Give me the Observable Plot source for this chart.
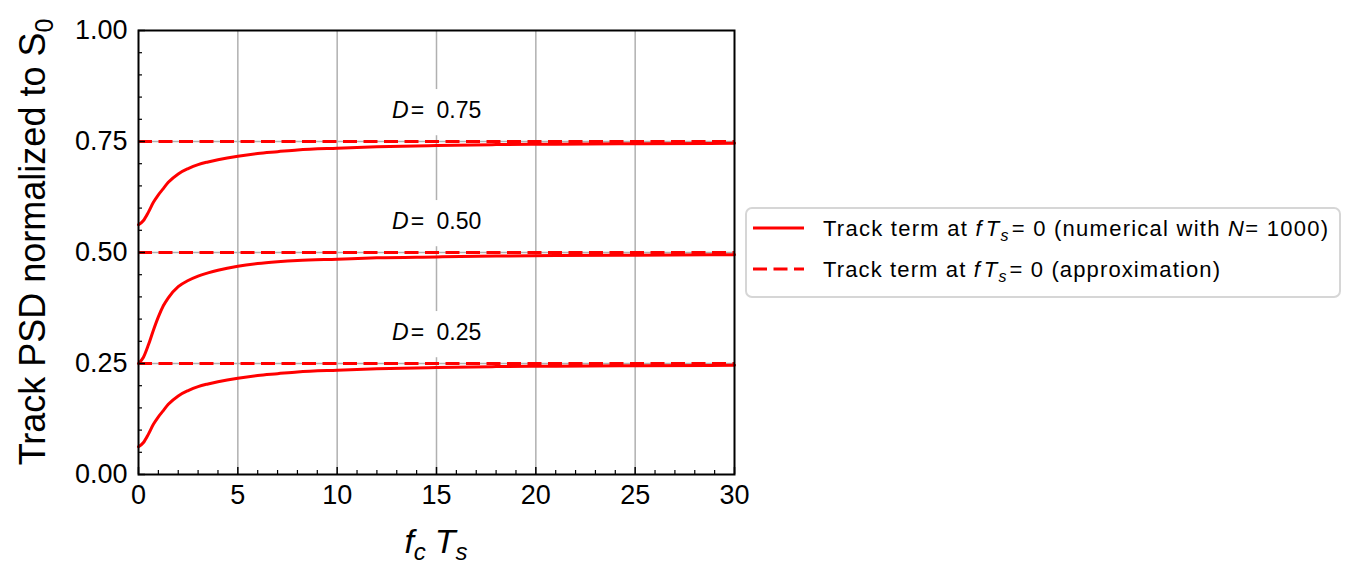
<!DOCTYPE html>
<html><head><meta charset="utf-8">
<script src="https://cdn.jsdelivr.net/npm/d3@7"></script>
<script src="https://cdn.jsdelivr.net/npm/@observablehq/plot@0.6"></script>
<style>body{margin:0;background:#fff;} svg{display:block}</style>
</head><body><div id="chart"></div>
<script>
// ---- data ----
const xValues = [0, 0.25, 0.5, 0.75, 1, 1.25, 1.5, 2, 2.5, 3, 3.5, 4, 5, 6, 7, 8, 10, 12, 15, 18, 21, 25, 30];
const dutyCycles = [0.25, 0.5, 0.75];
const psdD025 = [0.0625, 0.072, 0.091, 0.113, 0.130, 0.144, 0.158, 0.177, 0.189, 0.198, 0.204, 0.209, 0.217, 0.223, 0.227, 0.231, 0.235, 0.238, 0.241, 0.243, 0.244, 0.245, 0.246];
const psdD050 = [0.250, 0.264, 0.292, 0.325, 0.355, 0.380, 0.398, 0.423, 0.437, 0.447, 0.454, 0.460, 0.469, 0.475, 0.479, 0.482, 0.485, 0.488, 0.490, 0.492, 0.493, 0.494, 0.495];
const psdD075 = [0.5625, 0.572, 0.591, 0.613, 0.630, 0.644, 0.658, 0.677, 0.689, 0.698, 0.704, 0.709, 0.717, 0.723, 0.727, 0.731, 0.735, 0.738, 0.741, 0.743, 0.744, 0.745, 0.746];
const xTicks = [0, 5, 10, 15, 20, 25, 30];
const yTicks = [0, 0.25, 0.5, 0.75, 1];
const legendLabels = ["Track term at ", " 0 (numerical with ", "= 1000)", " 0 (approximation)"];

// ---- derived tables ----
const series = [psdD025, psdD050, psdD075];
const rows = dutyCycles.flatMap((D, k) => xValues.map((x, i) => ({x, y: series[k][i], D})));
const xMinor = d3.range(1, 30).filter(v => v % 5 !== 0);
const yMinor = d3.range(1, 20).filter(i => i % 5 !== 0).map(i => i / 20);

const W = 1358, H = 583, mL = 138, mR = 624, mT = 30, mB = 109;
const plotW = W - mL - mR, plotH = H - mT - mB;
const grey = "#b0b0b0";
const fmt = d3.format(".2f");
const labelY = d => d + 0.069;

const plot = Plot.plot({
  width: W, height: H,
  marginLeft: mL, marginRight: mR, marginTop: mT, marginBottom: mB,
  style: {fontFamily: "'Liberation Sans', Arial, sans-serif", fontSize: "27px", color: "black", background: "white"},
  x: {domain: [0, 30]},
  y: {domain: [0, 1]},
  marks: [
    Plot.ruleX(xTicks.slice(1, -1), {stroke: grey, strokeWidth: 1.5}),
    Plot.ruleY(yTicks.slice(1, -1), {stroke: grey, strokeWidth: 1.5}),
    Plot.rect(dutyCycles, {x1: () => 12.4, x2: () => 17.6, y1: d => d + 0.013, y2: d => d + 0.117, fill: "white"}),
    Plot.line(rows, {x: "x", y: "y", z: "D", stroke: "red", strokeWidth: 3, curve: "monotone-x"}),
    Plot.ruleY(dutyCycles, {stroke: "red", strokeWidth: 3, strokeDasharray: "14,6.5"}),
    Plot.text(dutyCycles, {x: () => 15, y: labelY, text: d => fmt(d), textAnchor: "start", fontSize: 23, fill: "black"}),
    Plot.text(dutyCycles, {x: () => 15, y: labelY, text: () => "=", dx: -19, fontSize: 23, fill: "black"}),
    Plot.text(dutyCycles, {x: () => 15, y: labelY, text: () => "D", fontStyle: "italic", textAnchor: "end", dx: -28, fontSize: 23, fill: "black"}),
    Plot.ruleX(xMinor, {insetTop: plotH - 4, stroke: "black", strokeWidth: 1.2}),
    Plot.ruleX(xTicks, {insetTop: plotH - 7, stroke: "black", strokeWidth: 1.5}),
    Plot.ruleY(yMinor, {insetRight: plotW - 4, stroke: "black", strokeWidth: 1.2}),
    Plot.ruleY(yTicks, {insetRight: plotW - 7, stroke: "black", strokeWidth: 1.5}),
    Plot.axisX(xTicks, {tickSize: 0, tickPadding: 10, fontSize: 27, label: null}),
    Plot.axisY(yTicks, {tickSize: 0, tickPadding: 11, tickFormat: fmt, fontSize: 27, label: null}),
    Plot.frame({stroke: "black", strokeWidth: 2})
  ]
});
document.getElementById("chart").appendChild(plot);

// ---- axis titles and legend ----
const svg = d3.select(plot);
const ff = "'Liberation Sans', Arial, sans-serif";

const yl = svg.append("text")
  .attr("transform", "translate(45,242) rotate(-90)")
  .attr("text-anchor", "middle").attr("font-size", 36).attr("font-family", ff).attr("fill", "black");
yl.append("tspan").text("Track PSD normalized to S");
yl.append("tspan").attr("dy", 8).attr("font-size", 25).text("0");

const xl = svg.append("text")
  .attr("x", 436).attr("y", 553)
  .attr("text-anchor", "middle").attr("font-size", 34).attr("font-style", "italic").attr("font-family", ff).attr("fill", "black");
xl.append("tspan").text("f");
xl.append("tspan").attr("dy", 7).attr("font-size", 24).text("c");
xl.append("tspan").attr("dy", -7).attr("dx", 9).text("T");
xl.append("tspan").attr("dy", 7).attr("font-size", 24).text("s");

const lg = svg.append("g").attr("font-family", ff).attr("fill", "black");
lg.append("rect").attr("x", 746).attr("y", 208).attr("width", 594).attr("height", 89).attr("rx", 6)
  .attr("fill", "white").attr("stroke", "#d6d6d6").attr("stroke-width", 2);
lg.append("line").attr("x1", 753).attr("x2", 804).attr("y1", 228).attr("y2", 228)
  .attr("stroke", "red").attr("stroke-width", 3);
lg.append("line").attr("x1", 753).attr("x2", 804).attr("y1", 269).attr("y2", 269)
  .attr("stroke", "red").attr("stroke-width", 3).attr("stroke-dasharray", "14,6.5");

function legendText(y, tail, withN, len) {
  const t = lg.append("text").attr("x", 823).attr("y", y).attr("text-anchor", "start")
    .attr("font-size", 22).attr("textLength", len).attr("lengthAdjust", "spacing");
  t.append("tspan").text(legendLabels[0]);
  t.append("tspan").attr("font-style", "italic").text("f");
  t.append("tspan").attr("font-style", "italic").attr("dx", 3).text("T");
  t.append("tspan").attr("font-style", "italic").attr("font-size", 16).attr("dy", 5).text("s");
  t.append("tspan").attr("dy", -5).attr("dx", 2).text("=");
  t.append("tspan").text(tail);
  if (withN) {
    t.append("tspan").attr("font-style", "italic").text("N");
    t.append("tspan").text(legendLabels[2]);
  }
}
legendText(236, legendLabels[1], true, 505);
legendText(277, legendLabels[3], false, 397);
</script>
</body></html>
